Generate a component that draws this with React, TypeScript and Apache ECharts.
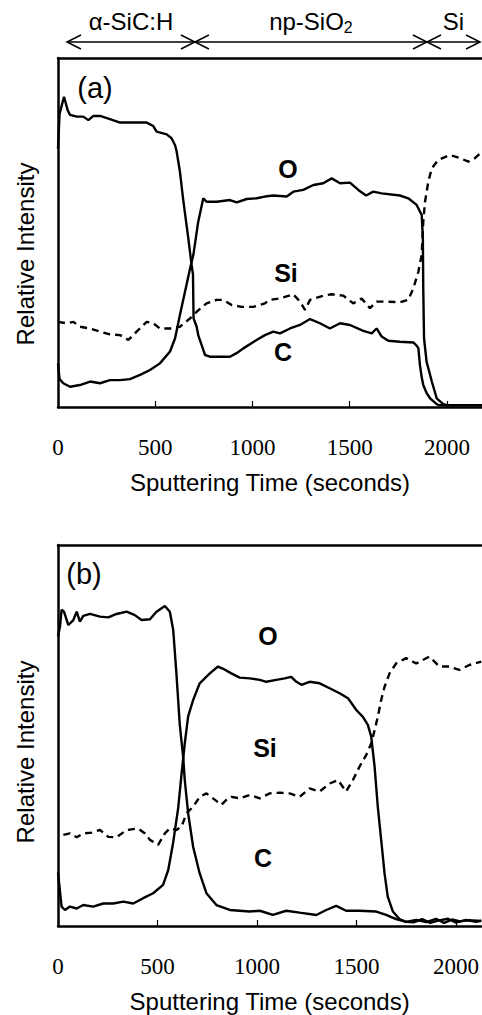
import { useEffect, useRef } from "react";
import * as echarts from "echarts";

type P = [number, number];

const xTicks = [0, 500, 1000, 1500, 2000];
const xMaxA = 2180;
const xMaxB = 2127;
const layerNames = ["α-SiC:H", "np-SiO{s|2}", "Si"];
const layerBounds = [46, 704, 1897, 2170];
const xTitle = "Sputtering Time (seconds)";
const yTitle = "Relative Intensity";

const aC: P[] = [[0,74],[8,84],[31,88.9],[50,85],[62,83.7],[96,83.2],[130,83.2],[156,82.2],[182,83.4],[216,83.4],[267,82.5],[319,81.5],[456,81.5],[490,80.5],[507,78.9],[559,78.1],[584,77],[602,75],[610,73.2],[627,67.4],[644,59.3],[670,48.3],[687,40.7],[694,38],[697,25.4],[713,23],[721,20.6],[740,17.5],[756,14.9],[781,14.4],[884,14.4],[920,15.5],[953,16.8],[1021,19.2],[1064,20.6],[1107,21.6],[1141,21.1],[1193,22.5],[1244,23.5],[1296,25.2],[1347,24],[1398,22.5],[1450,24],[1501,23.5],[1570,21.8],[1613,21.1],[1638,22.5],[1664,20.2],[1698,19],[1758,18.7],[1827,18.5],[1845,17.5],[1853,16.8],[1861,12],[1870,8.5],[1878,6.3],[1895,4],[1913,2.5],[1947,0.8],[1960,0.5],[2180,0.5]];
const aO: P[] = [[0,12.5],[8,8],[27,6.8],[62,5.8],[113,6.3],[165,7.3],[216,6.8],[267,7.7],[319,7.7],[370,8],[422,9.2],[473,10.6],[524,12.5],[576,15.9],[602,19.7],[627,26.4],[653,33],[679,39.7],[696,43.6],[721,53.1],[747,59.8],[764,58.8],[816,58.8],[884,59.3],[919,58.6],[970,59.6],[1021,59.8],[1064,60.3],[1107,60.6],[1176,60.3],[1210,61.7],[1261,62.2],[1313,63.6],[1364,64.1],[1407,65.5],[1450,64.1],[1501,64.3],[1544,62.2],[1584,60.6],[1621,61.7],[1664,61.2],[1758,60.6],[1801,59.8],[1844,57.9],[1870,55],[1876,48.3],[1878,34],[1882,19.7],[1895,13],[1922,7.3],[1947,2.5],[1981,0.8],[2000,0.5],[2180,0.5]];
const aSi: P[] = [[0,24.4],[45,24],[79,24.4],[113,23],[165,22.5],[216,21.6],[267,20.8],[319,20.6],[362,19.2],[404,21.6],[456,24.4],[490,24],[524,22.5],[576,22.5],[627,23],[679,25.4],[713,27.3],[764,29.7],[816,30.7],[850,30.7],[893,29.2],[944,28.7],[1004,28.7],[1064,29.7],[1090,30.7],[1141,31.1],[1210,32.3],[1244,30.2],[1270,27.8],[1296,30.7],[1364,31.9],[1407,32.3],[1467,31.9],[1518,29.7],[1561,31.1],[1604,28.3],[1638,30.2],[1690,30.2],[1758,30],[1801,30.7],[1827,34],[1853,38.8],[1870,43.6],[1878,53.1],[1887,58.8],[1904,64.6],[1922,68.4],[1955,70.8],[2015,72.2],[2067,71.3],[2110,70.3],[2144,71.3],[2180,73.2]];

const bC: P[] = [[0,76],[10,78.6],[18,83],[30,82.5],[52,79],[77,80.3],[94,82.5],[110,79.9],[127,81.4],[161,81.9],[211,81.2],[253,81],[294,81.9],[345,82.5],[386,81.6],[420,80.3],[462,80.5],[495,82.5],[537,84],[562,82.5],[579,77.7],[595,66.3],[612,52.8],[629,44.4],[637,38.3],[654,29.6],[679,20.8],[712,13.8],[746,8.6],[796,5.5],[863,4.2],[963,3.8],[1014,4.0],[1080,2.9],[1147,4.0],[1214,3.5],[1298,2.9],[1348,4.2],[1398,5.3],[1448,4.0],[1515,4.0],[1599,3.8],[1649,2.9],[1699,1.8],[1749,1.1],[1800,1.6],[1850,1.0],[1900,1.9],[1940,0.8],[1980,1.7],[2020,1.2],[2060,1.5],[2127,1.3]];
const bO: P[] = [[0,14],[18,5.1],[35,4.2],[60,5.1],[94,4.6],[127,5.5],[177,5.1],[227,5.9],[278,5.9],[328,6.4],[378,5.9],[428,7.3],[478,8.6],[528,10.8],[554,14.7],[579,22],[604,31],[621,40],[637,47.9],[654,55],[679,59.3],[712,63.7],[763,66.3],[804,68.1],[830,67.5],[871,66.3],[913,65.2],[963,65],[1014,64.6],[1047,64.1],[1097,64.6],[1139,65],[1172,65.4],[1198,64.1],[1223,63.3],[1264,64.1],[1315,63.7],[1365,62.4],[1415,61.1],[1457,59.8],[1499,56.7],[1532,54.9],[1557,52.8],[1574,49.7],[1591,41.8],[1607,31.3],[1624,22.6],[1641,13.8],[1657,7.7],[1683,3.8],[1716,1.8],[1749,1.1],[1790,1.0],[1830,1.8],[1870,0.8],[1910,1.4],[1960,1.9],[2000,0.9],[2050,1.6],[2100,1.1],[2127,1.4]];
const bSi: P[] = [[27,23.9],[60,24.3],[94,23.3],[127,24.3],[169,24.5],[211,25.2],[253,23.4],[294,23.3],[345,25.2],[403,25.6],[437,24.3],[462,22.6],[503,21.3],[537,24.3],[562,25.6],[595,25.2],[621,26.1],[646,29.6],[679,31.3],[712,33.9],[746,34.8],[779,33.5],[821,31.8],[846,33.1],[871,33.9],[913,33.5],[963,34.4],[1014,33.5],[1064,34.8],[1114,35],[1164,34.8],[1214,33.9],[1264,36.1],[1315,35.3],[1365,37.4],[1407,38.3],[1448,35.3],[1482,38.3],[1515,41.8],[1549,44.9],[1574,47.9],[1591,51.4],[1607,54.9],[1624,59.3],[1641,62.8],[1666,66.3],[1699,68.9],[1749,70.3],[1800,68.9],[1866,70.7],[1917,68.1],[1967,68.1],[2017,67.2],[2067,68.5],[2127,69.4]];

const SANS = '"Liberation Sans", Arial, sans-serif';
const SERIF = '"Liberation Serif", "Times New Roman", serif';

export default function App() {
  const ref = useRef<HTMLDivElement>(null);
  useEffect(() => {
    const chart = echarts.init(ref.current!, null, { renderer: "svg" });
    const axisLine = { show: true, lineStyle: { color: "#000", width: 2.5 } };
    const bottomAxis = (grid: number, max: number) => ({
      type: "value", gridIndex: grid, min: 0, max, position: "bottom",
      axisLine,
      axisTick: { show: true, inside: true, length: 6, customValues: xTicks, lineStyle: { color: "#000", width: 1.2 } },
      axisLabel: {
        show: true, margin: 29, customValues: xTicks, fontFamily: SERIF, fontSize: 23, color: "#000",
        formatter: (v: number) => String(v),
      },
      splitLine: { show: false },
      name: xTitle, nameLocation: "middle", nameGap: 63,
      nameTextStyle: { fontFamily: SANS, fontSize: 24, color: "#000" },
    });
    const topAxis = (grid: number, max: number) => ({
      type: "value", gridIndex: grid, min: 0, max, position: "top",
      axisLine, axisTick: { show: false }, axisLabel: { show: false }, splitLine: { show: false },
    });
    const yAx = (grid: number) => ({
      type: "value", gridIndex: grid, min: 0, max: 100,
      axisLine, axisTick: { show: false }, axisLabel: { show: false }, splitLine: { show: false },
    });
    const solid = (data: P[], xi: number, yi: number) => ({
      type: "line", data, xAxisIndex: xi, yAxisIndex: yi, showSymbol: false, symbol: "none",
      lineStyle: { color: "#000", width: 2.4 }, silent: true,
    });
    const dashed = (data: P[], xi: number, yi: number) => ({
      type: "line", data, xAxisIndex: xi, yAxisIndex: yi, showSymbol: false, symbol: "none",
      lineStyle: { color: "#000", width: 2.4, type: [7, 5] }, silent: true,
    });
    chart.setOption({
      animation: false,
      backgroundColor: "#fff",
      grid: [
        { left: 58, top: 58, width: 424, height: 349 },
        { left: 58, top: 545, width: 424, height: 381 },
      ],
      xAxis: [bottomAxis(0, xMaxA), bottomAxis(1, xMaxB), topAxis(0, xMaxA), topAxis(1, xMaxB)],
      yAxis: [yAx(0), yAx(1)],
      series: [
        solid(aC, 0, 0), solid(aO, 0, 0), dashed(aSi, 0, 0),
        solid(bC, 1, 1), solid(bO, 1, 1), dashed(bSi, 1, 1),
      ],
    });

    const px = layerBounds.map((v) => chart.convertToPixel({ xAxisIndex: 0 }, v) as number);
    const ay = 42;
    const head = (x: number, dir: number) => ({
      type: "polyline",
      shape: { points: [[x + dir * 14, ay - 7], [x, ay], [x + dir * 14, ay + 7]] },
      style: { stroke: "#000", lineWidth: 1.5, fill: "none" },
    });
    const txt = (text: string, x: number, y: number, size: number, bold = false, extra: any = {}) => {
      const { styleExtra, ...rest } = extra;
      return {
        type: "text", x, y, ...rest,
        style: {
          text, font: `${bold ? "bold " : ""}${size}px ${SANS}`, fill: "#000",
          align: "center", verticalAlign: "middle", textAlign: "center", textVerticalAlign: "middle",
          ...(styleExtra || {}),
        },
      };
    };
    const graphics: any[] = [
      { type: "line", shape: { x1: px[0], y1: ay, x2: px[3], y2: ay }, style: { stroke: "#000", lineWidth: 1.5 } },
      head(px[0], 1), head(px[1], -1), head(px[1], 1), head(px[2], -1), head(px[2], 1), head(px[3], -1),
    ];
    for (let i = 0; i < 3; i++) {
      const cx = (px[i] + px[i + 1]) / 2;
      graphics.push(txt(layerNames[i], cx, 21, 24, false, { styleExtra: { rich: { s: { fontSize: 16, fontFamily: SANS, padding: [12, 0, 0, 0] } } } }));
    }
    graphics.push(
      txt("(a)", 95, 88, 29),
      txt("O", 288, 169, 25, true),
      txt("Si", 286, 273, 25, true),
      txt("C", 283, 352, 25, true),
      txt("(b)", 84, 574, 29),
      txt("O", 268, 636, 25, true),
      txt("Si", 265, 748, 25, true),
      txt("C", 263, 858, 25, true),
      txt(yTitle, 25, 254, 24, false, { rotation: Math.PI / 2 }),
      txt(yTitle, 25, 752, 24, false, { rotation: Math.PI / 2 }),
    );
    chart.setOption({ graphic: graphics });
    return () => chart.dispose();
  }, []);
  return <div ref={ref} style={{ position: "absolute", left: 0, top: 0, width: 482, height: 1015 }} />;
}
